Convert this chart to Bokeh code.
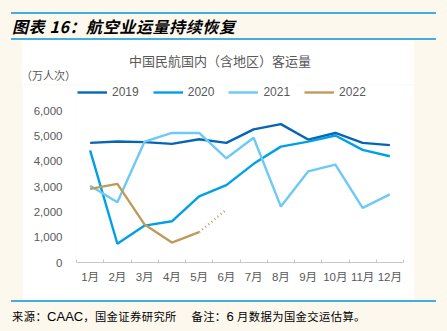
from bokeh.plotting import figure
from bokeh.models import (Range1d, FixedTicker, Legend, LegendItem, Div, Spacer)
from bokeh.layouts import column, row
from bokeh.embed import file_html
from bokeh.resources import INLINE

months = ["1月", "2月", "3月", "4月", "5月", "6月", "7月", "8月", "9月", "10月", "11月", "12月"]
y2019 = [4730, 4780, 4760, 4690, 4870, 4730, 5260, 5470, 4860, 5120, 4730, 4640]
y2020 = [4430, 740, 1460, 1630, 2610, 3060, 3900, 4580, 4780, 5020, 4450, 4200]
y2021 = [3030, 2380, 4780, 5120, 5120, 4120, 4930, 2210, 3600, 3870, 2160, 2690]
y2022 = [2910, 3110, 1500, 790, 1200]
y2022_est = [1200, 2090]  # May actual -> June estimate (dotted)
y_ticks = [0, 1000, 2000, 3000, 4000, 5000, 6000]
series_names = ["2019", "2020", "2021", "2022"]

fig_title = "图表 16：航空业运量持续恢复"
chart_title = "中国民航国内（含地区）客运量"
unit_label = "（万人次）"

xs = list(range(1, len(months) + 1))

CREAM = "#fdf8ee"
GRAY = "#595959"
RULE = "#45ace0"
CJK = "Noto Sans CJK SC"
MIX = "Liberation Sans, Noto Sans CJK SC"

# ---------- plot (canvas x 22..414, y 84..300) ----------
p = figure(width=392, height=216, output_backend="svg", toolbar_location=None,
           x_range=Range1d(0.5, len(months) + 0.5), y_range=Range1d(0, 7036),
           min_border_left=54, min_border_right=11, min_border_top=0,
           min_border_bottom=38)
p.border_fill_color = "white"
p.background_fill_color = "white"
p.outline_line_color = None
p.grid.visible = False

xa = p.xaxis[0]
xa.ticker = FixedTicker(ticks=xs, minor_ticks=[x + 0.5 for x in range(0, len(months) + 1)])
xa.major_label_overrides = {x: m for x, m in zip(xs, months)}
xa.major_tick_line_color = None
xa.major_tick_in = 0
xa.major_tick_out = 0
xa.minor_tick_in = 3
xa.minor_tick_out = 0
xa.minor_tick_line_color = "#c8c8c8"
xa.axis_line_color = "#c8c8c8"
xa.axis_line_width = 1
xa.major_label_text_color = GRAY
xa.major_label_text_font = MIX
xa.major_label_text_font_size = "11.5px"
xa.major_label_standoff = 8

ya = p.yaxis[0]
ya.ticker = FixedTicker(ticks=y_ticks)
ya.major_label_overrides = {t: f"{t:,}" for t in y_ticks}
ya.axis_line_color = None
ya.major_tick_line_color = None
ya.major_tick_in = 0
ya.major_tick_out = 0
ya.minor_tick_line_color = None
ya.major_label_text_color = GRAY
ya.major_label_text_font = MIX
ya.major_label_text_font_size = "11.5px"
ya.major_label_standoff = 14

colors = ["#0766b2", "#00a0e9", "#6dc9f5", "#bf9b5b"]
r19 = p.line(xs, y2019, line_color=colors[0], line_width=2.4)
r20 = p.line(xs, y2020, line_color=colors[1], line_width=2.4)
r21 = p.line(xs, y2021, line_color=colors[2], line_width=2.4)
r22 = p.line(xs[:len(y2022)], y2022, line_color=colors[3], line_width=2.4)
p.line(xs[len(y2022) - 1:len(y2022) + 1], y2022_est, line_color=colors[3],
       line_width=2.4, line_dash="1 3")

legend = Legend(items=[LegendItem(label=n, renderers=[r])
                       for n, r in zip(series_names, [r19, r20, r21, r22])],
                orientation="horizontal", location=(1, 163),
                background_fill_alpha=0, border_line_color=None,
                label_text_font=MIX, label_text_font_size="12px",
                label_text_color=GRAY, glyph_width=30, glyph_height=14,
                label_height=14, spacing=14,
                label_standoff=5, padding=0, margin=0)
p.add_layout(legend, "center")

# ---------- header / titles / footer ----------
header_html = f"""
<div style="position:relative;width:447px;height:40px;overflow:hidden;">
  <div style="position:absolute;left:11px;top:12px;width:425px;height:2px;background:{RULE};"></div>
  <div style="position:absolute;left:12px;top:15px;height:22px;line-height:22px;white-space:nowrap;
              font-family:'{CJK}';font-size:16px;font-weight:bold;font-style:italic;
              letter-spacing:0.6px;color:#000;">{fig_title}</div>
  <div style="position:absolute;left:11px;top:38px;width:425px;height:2px;background:{RULE};"></div>
</div>"""
header = Div(text=header_html, width=447, height=40, margin=0)

top_html = f"""
<div style="position:relative;width:392px;height:44px;overflow:hidden;background:white;">
  <div style="position:absolute;left:0;top:12px;width:396px;text-align:center;line-height:18px;
              font-family:'{CJK}';font-size:13px;color:{GRAY};white-space:nowrap;">{chart_title}</div>
  <div style="position:absolute;left:-1px;top:28px;line-height:14px;
              font-family:'{CJK}';font-size:11px;color:{GRAY};white-space:nowrap;">{unit_label}</div>
</div>"""
top = Div(text=top_html, width=392, height=44, margin=0, styles={"background-color": "white"})

footer_html = f"""
<div style="position:relative;width:447px;height:31px;overflow:hidden;">
  <div style="position:absolute;left:11px;top:0px;width:425px;height:2px;background:{RULE};"></div>
  <div style="position:absolute;left:12px;top:8px;line-height:16px;white-space:nowrap;color:#000;
              font-family:'{CJK}';font-size:11.3px;letter-spacing:0.4px;">来源：<span style="font-family:'Liberation Sans';font-size:13px;letter-spacing:0;">CAAC</span>，国金证券研究所&nbsp;&nbsp;&nbsp;&nbsp;&nbsp;备注：<span style="font-family:'Liberation Sans';font-size:13px;">6</span> 月数据为国金交运估算。</div>
</div>"""
footer = Div(text=footer_html, width=447, height=31, margin=0)

mid = column(top, p, width=392, height=260, spacing=0)
middle = row(Spacer(width=22, height=260), mid, Spacer(width=33, height=260),
             width=447, height=260, spacing=0)
layout = column(header, middle, footer, width=447, height=331, spacing=0,
                styles={"background-color": CREAM})

open("out.html", "w").write(file_html(layout, INLINE))
